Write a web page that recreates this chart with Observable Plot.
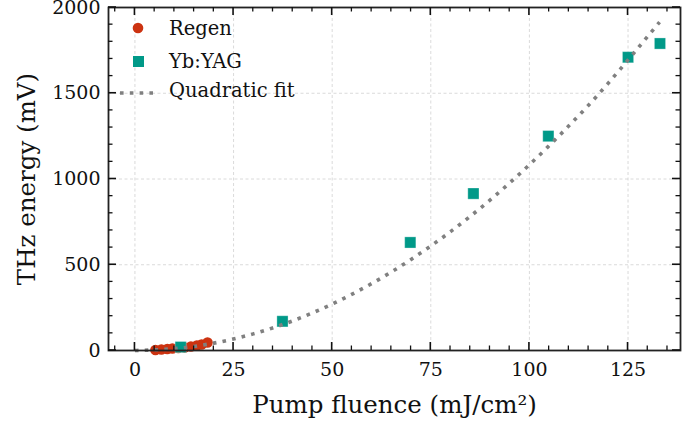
<!DOCTYPE html>
<html><head><meta charset="utf-8">
<script src="https://cdn.jsdelivr.net/npm/d3@7"></script>
<script src="https://cdn.jsdelivr.net/npm/@observablehq/plot@0.6"></script>
<style>body{margin:0;background:#fff} #chart svg{font-family:"DejaVu Serif",serif}</style>
</head><body><div id="chart"></div>
<script>
// Regen (red circles)
const regenX = [5.2, 6.7, 8.2, 9.5, 11.0, 12.6, 14.2, 15.7, 16.9, 18.4];
const regenY = [3, 6, 9, 12, 15, 17, 23, 29, 35, 47];
// Yb:YAG (teal squares)
const ybX = [11.6, 37.4, 69.8, 85.8, 104.8, 125.0, 133.1];
const ybY = [20, 170, 630, 915, 1250, 1710, 1790];
// Quadratic fit curve
const fitX = [0, 10, 20, 30, 40, 50, 60, 70, 80, 90, 100, 110, 120, 133];
const fitY = [0, 11, 43, 97, 173, 271, 390, 531, 693, 877, 1083, 1310, 1559, 1915];
// ticks
const xMajor = [0, 25, 50, 75, 100, 125];
const xMinor = [-5, 5, 10, 15, 20, 30, 35, 40, 45, 55, 60, 65, 70, 80, 85, 90, 95, 105, 110, 115, 120, 130, 135];
const yMajor = [0, 500, 1000, 1500, 2000];
const yMinor = [100, 200, 300, 400, 600, 700, 800, 900, 1100, 1200, 1300, 1400, 1600, 1700, 1800, 1900];

const seriesNames = ["Regen", "Yb:YAG", "Quadratic fit"];
const regenColor = "#cc3311", ybColor = "#009988", fitColor = "#808080";

const regen = regenX.map((x, i) => ({x, y: regenY[i]}));
const yb = ybX.map((x, i) => ({x, y: ybY[i]}));
const fit = fitX.map((x, i) => ({x, y: fitY[i]}));

const W = 683, H = 427, ML = 108, MR = 3, MT = 7, MB = 77;
const tickStroke = "#111";
const plot = Plot.plot({
  width: W, height: H,
  marginLeft: ML, marginRight: MR, marginTop: MT, marginBottom: MB,
  style: {fontFamily: '"DejaVu Serif", serif', fontSize: "19px", color: "#111", background: "white", overflow: "visible"},
  x: {domain: [-6.7, 138.3], label: null},
  y: {domain: [0, 2000], label: null},
  marks: [
    Plot.gridX(xMajor, {stroke: "#d0d0d0", strokeOpacity: 1, strokeWidth: 0.8, strokeDasharray: "3,2.5"}),
    Plot.gridY(yMajor, {stroke: "#d0d0d0", strokeOpacity: 1, strokeWidth: 0.8, strokeDasharray: "3,2.5"}),
    Plot.dot(regen, {x: "x", y: "y", r: 5.3, fill: regenColor}),
    Plot.dot(yb, {x: "x", y: "y", r: 6.3, symbol: "square", fill: ybColor, stroke: "#fff", strokeWidth: 0.6, strokeOpacity: 0.5}),
    Plot.line(fit, {x: "x", y: "y", curve: "natural", stroke: fitColor, strokeWidth: 3.6, strokeLinecap: "butt", strokeDasharray: "3.6,6.2"}),
    Plot.frame({stroke: "#222", strokeWidth: 1.8}),
    Plot.axisX(xMajor, {anchor: "bottom", tickSize: 0, tickPadding: 12, fontSize: 19, fill: "#111", tickFormat: d3.format("d"),
      label: "Pump fluence (mJ/cm²)", labelAnchor: "center", labelArrow: "none", labelOffset: 62}),
    Plot.axisY(yMajor, {anchor: "left", tickSize: 0, tickPadding: 8, fontSize: 19, fill: "#111", tickFormat: d3.format("d"),
      label: "THz energy (mV)", labelAnchor: "center", labelArrow: "none", labelOffset: 91})
  ]
});
document.getElementById("chart").appendChild(plot);

const svg = d3.select(plot);
svg.selectAll("g[aria-label='x-axis label'] text, g[aria-label='y-axis label'] text").style("font-size", "24.5px");

// inward ticks on all four sides, positioned through Plot's own scales
const sx = plot.scale("x"), sy = plot.scale("y");
const x0 = ML, x1 = W - MR, y0 = MT, y1 = H - MB;
const tg = svg.append("g");
function tick(a, b, c, d, w) {
  tg.append("path").attr("d", `M${a},${b}L${c},${d}`).attr("stroke", tickStroke).attr("stroke-width", w).attr("fill", "none");
}
function xTicks(vals, len, w) {
  vals.forEach(v => {
    const px = sx.apply(v);
    if (!(px >= x0 && px <= x1)) return;
    tick(px, y1, px, y1 - len, w);
    tick(px, y0, px, y0 + len, w);
  });
}
function yTicks(vals, len, w) {
  vals.forEach(v => {
    const py = sy.apply(v);
    if (!(py >= y0 - 0.5 && py <= y1 + 0.5)) return;
    tick(x0, py, x0 + len, py, w);
    tick(x1, py, x1 - len, py, w);
  });
}
xTicks(xMajor, 8, 1.6); xTicks(xMinor, 4.5, 1.3);
yTicks(yMajor, 8, 1.6); yTicks(yMinor, 4.5, 1.3);

// legend
const lg = svg.append("g").attr("font-family", '"DejaVu Serif", serif').attr("font-size", "19.5px")
  .attr("fill", "#111").attr("text-anchor", "start");
lg.append("circle").attr("cx", 138).attr("cy", 28).attr("r", 5.3).attr("fill", regenColor);
lg.append("rect").attr("x", 133).attr("y", 56).attr("width", 11).attr("height", 11).attr("fill", ybColor);
lg.append("line").attr("x1", 120).attr("x2", 156).attr("y1", 93).attr("y2", 93)
  .attr("stroke", fitColor).attr("stroke-width", 3.6).attr("stroke-dasharray", "3.6,6.2");
[35, 68, 97].forEach((yy, i) => lg.append("text").attr("x", 169).attr("y", yy).attr("text-anchor", "start").text(seriesNames[i]));
</script></body></html>
